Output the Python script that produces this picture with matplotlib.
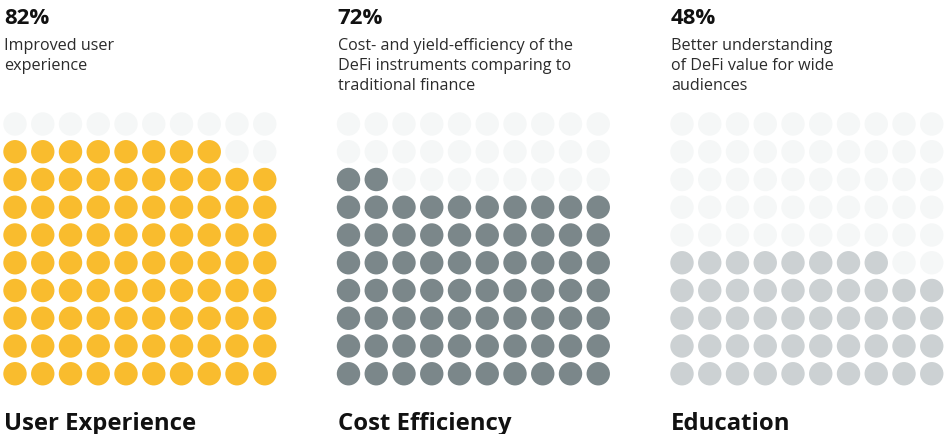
import matplotlib
matplotlib.use("Agg")
import matplotlib.pyplot as plt
from matplotlib.patches import Circle

# values
pct_labels = ["82%", "72%", "48%"]
filled_dots = [88, 72, 48]          # dots actually coloured in each grid
descriptions = [
    ["Improved user", "experience"],
    ["Cost- and yield-efficiency of the", "DeFi instruments comparing to", "traditional finance"],
    ["Better understanding", "of DeFi value for wide", "audiences"],
]
titles = ["User Experience", "Cost Efficiency", "Education"]
fill_colors = ["#F9BC2E", "#7B878A", "#CCD1D3"]
empty_color = "#F5F7F7"

W, H = 946, 435
plt.rcParams["font.family"] = ["Open Sans", "DejaVu Sans"]

fig = plt.figure(figsize=(W / 100, H / 100), dpi=100)
ax = fig.add_axes([0, 0, 1, 1])
ax.set_xlim(0, W)
ax.set_ylim(H, 0)
ax.axis("off")

panel_dx = 333.5
step = 27.75
r = 11.7
for p, n in enumerate(filled_dots):
    x0 = p * panel_dx
    # header
    ax.text(x0 + 4, 24, pct_labels[p], fontsize=16, fontweight="bold",
            color="#111111", va="baseline", ha="left")
    for j, line in enumerate(descriptions[p]):
        ax.text(x0 + 4, 50.5 + j * 19.5, line, fontsize=11.6, color="#2b2b2b",
                va="baseline", ha="left")
    # 10x10 waffle, filled from bottom row upward, left to right
    for k in range(100):
        row_from_bottom, col = divmod(k, 10)
        cx = x0 + 15 + col * step
        cy = 125 + (9 - row_from_bottom) * step
        c = fill_colors[p] if k < n else empty_color
        ax.add_patch(Circle((cx, cy), r, facecolor=c, edgecolor="none"))
    ax.text(x0 + 4, 430, titles[p], fontsize=17.2, fontweight="bold",
            color="#111111", va="baseline", ha="left")

fig.savefig("out.png", dpi=100)
